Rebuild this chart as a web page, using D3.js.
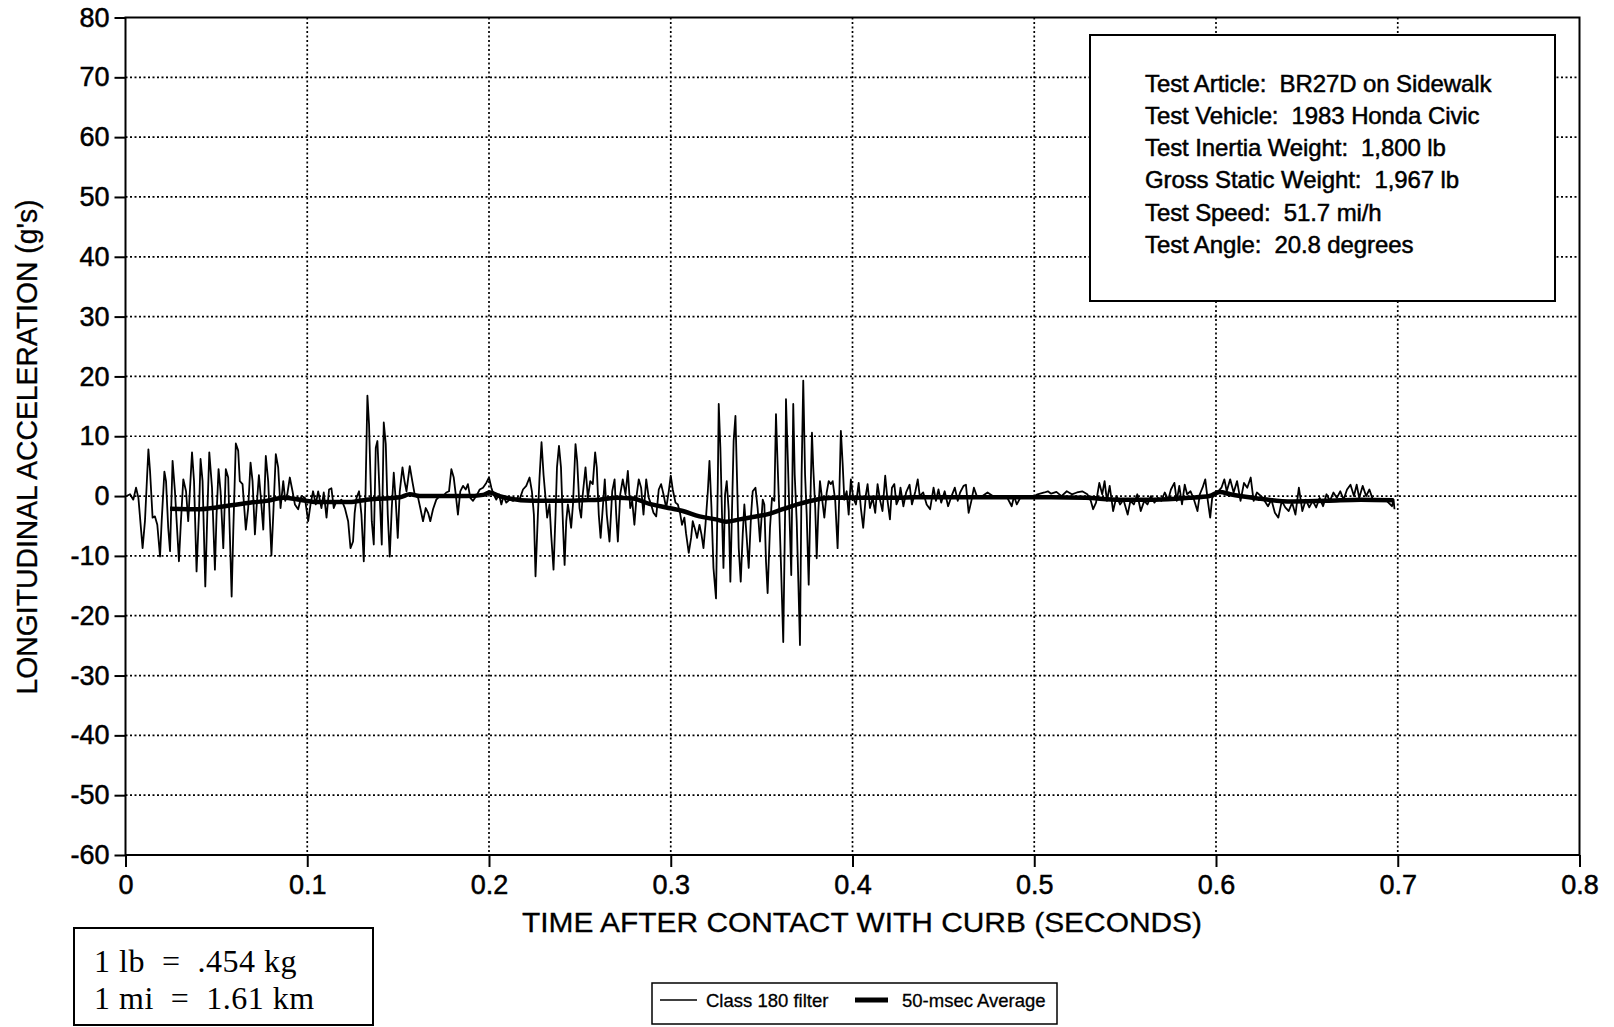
<!DOCTYPE html>
<html>
<head>
<meta charset="utf-8">
<script src="https://cdn.jsdelivr.net/npm/d3@7"></script>
<style>
    body { margin: 0; background: #fff; }
    svg { display: block; }
    .tick text { font-family: "Liberation Sans", Arial, sans-serif; }
</style>
</head>
<body>
<svg id="chart" width="1614" height="1027"></svg>
<script>
// ------------------------------------------------------------------
// Data - time in msec, acceleration in g's
// ------------------------------------------------------------------
var xTicks = [0, 0.1, 0.2, 0.3, 0.4, 0.5, 0.6, 0.7, 0.8];
var yTicks = [-60, -50, -40, -30, -20, -10, 0, 10, 20, 30, 40, 50, 60, 70, 80];

var infoLines = [
    "Test Article:  BR27D on Sidewalk",
    "Test Vehicle:  1983 Honda Civic",
    "Test Inertia Weight:  1,800 lb",
    "Gross Static Weight:  1,967 lb",
    "Test Speed:  51.7 mi/h",
    "Test Angle:  20.8 degrees"
];
var unitLines = ["1 lb  =  .454 kg", "1 mi  =  1.61 km"];
var legendNames = ["Class 180 filter", "50-msec Average"];

// Class 180 filtered trace [msec, g]
var class180 = [
    [0.6,0],[2.5,0.3],[4.3,-0.6],[5.8,1.4],[7.1,-0.3],[9.4,-8.7],[10.7,-4.2],[12.6,7.8],[13.5,4.2],[14.9,-3.6],
    [16.2,-3.4],[17.5,-4.8],[19.0,-10.1],[19.9,-4.2],[21.4,4.1],[22.3,2.5],[23.5,-5.3],[24.5,-9.2],[25.9,5.9],[27.2,0.8],
    [29.4,-10.9],[30.5,-4.2],[31.8,2.8],[33.3,0.8],[34.5,-4.2],[36.6,7.3],[37.7,2.5],[39.1,-12.6],[40.4,-3.1],[41.3,6.2],
    [42.4,2.5],[43.9,-15.1],[45.0,-3.1],[46.1,7.3],[47.6,1.4],[49.2,-12.3],[50.1,-3.1],[51.2,4.5],[52.3,0.8],[53.8,-8.7],
    [55.2,4.5],[56.5,3.1],[58.4,-16.8],[59.3,-5.9],[60.7,8.8],[62.0,7.6],[62.9,2.5],[64.4,2.0],[66.2,-5.6],[67.5,-2.0],
    [68.8,5.6],[69.9,2.5],[71.2,-6.4],[72.1,-2.0],[73.4,3.5],[74.3,0.3],[75.8,-5.6],[77.2,6.7],[78.5,2.5],[80.3,-9.9],
    [81.3,-3.1],[82.7,7.0],[84.0,4.8],[85.3,-2.0],[86.8,2.5],[87.9,-0.8],[89.0,0.3],[90.4,3.1],[91.9,0.8],[93.2,-1.4],
    [95.0,-2.2],[96.8,0],[98.7,-0.3],[100.5,-4.2],[101.8,-1.4],[103.2,0.8],[104.7,-1.4],[106.0,0.8],[107.8,-2.0],[109.1,0.6],
    [110.6,-3.6],[112.0,1.1],[113.3,1.3],[114.6,-2.0],[116.1,-0.8],[117.5,-1.1],[118.8,-0.6],[120.7,-2.0],[122.5,-4.2],[123.8,-8.7],
    [125.2,-7.6],[126.1,-2.8],[127.1,-0.3],[128.5,0.8],[129.8,-3.1],[131.1,-10.9],[132.0,-0.3],[133.1,16.8],[134.0,12.0],[134.8,3.1],
    [135.5,-4.2],[136.6,-8.1],[137.7,8.1],[138.6,9.2],[139.9,-0.3],[141.0,-8.1],[142.1,12.3],[143.2,8.7],[144.3,-3.1],[145.4,-10.1],
    [146.5,-2.0],[147.6,3.9],[148.7,-0.8],[149.8,-7.0],[150.9,0.8],[152.4,4.8],[153.5,2.5],[154.6,0.8],[156.4,5.0],[157.8,2.5],
    [159.1,0.3],[161.0,-0.3],[162.2,-2.0],[163.7,-4.2],[165.2,-2.0],[166.5,-2.8],[167.7,-4.2],[169.2,-2.2],[171.0,-0.6],[172.9,0],
    [174.7,0],[176.5,0.6],[178.0,0.8],[179.3,4.5],[180.6,3.1],[181.7,0.3],[182.9,-3.1],[184.2,0.8],[185.7,1.7],[187.2,1.1],
    [188.4,2.0],[189.7,-0.3],[191.2,-0.8],[193.0,0],[194.9,1.1],[196.7,1.4],[198.5,2.2],[200.0,3.1],[201.3,1.4],[202.5,0.3],
    [204.0,-0.6],[205.5,0.3],[206.8,-1.4],[208.0,0],[209.5,-1.1],[211.3,-0.6],[213.2,-0.8],[215.9,-0.3],
    [216.8,-0.6],[218.7,1.1],[220.5,1.7],[222.3,3.1],[223.6,0.8],[224.7,-3.1],[225.6,-13.4],[226.9,-3.1],[227.8,3.1],[228.9,9.0],
    [230.0,3.6],[231.1,-0.3],[232.0,-3.6],[233.3,-1.4],[234.2,-6.4],[235.5,-12.3],[236.6,-3.1],[237.4,4.8],[238.5,8.4],[239.6,4.8],
    [240.7,-4.8],[241.6,-11.5],[242.5,-4.2],[243.4,-1.4],[244.3,-3.1],[245.2,-5.3],[246.2,-1.4],[247.6,8.7],[248.5,5.9],[249.8,-2.0],
    [250.7,-3.6],[251.6,0.3],[253.1,4.8],[254.4,-0.3],[255.7,2.5],[257.1,2.0],[258.4,7.3],[259.3,4.8],[260.4,-3.1],[261.4,-7.0],
    [262.6,-2.0],[263.7,2.8],[264.8,-3.1],[266.3,-7.6],[267.8,0.8],[269.1,2.8],[270.0,-3.1],[270.9,-7.6],[272.2,0.3],[273.6,2.8],
    [275.1,0.3],[276.4,4.2],[277.7,-2.0],[278.8,-0.8],[280.0,-4.8],[281.3,0.3],[282.4,2.8],[283.7,1.4],[285.0,-3.1],[286.5,2.8],
    [287.9,-0.3],[289.2,-1.4],[290.5,-2.8],[292.0,-3.4],[293.4,1.1],[294.7,2.0],[296.0,0.3],[297.5,-2.0],[298.9,0.8],[300.0,3.4],
    [301.1,1.1],[302.6,-1.1],[303.9,-1.4],[305.1,-2.8],[306.2,-4.8],[307.5,-3.6],[308.4,-6.2],[309.9,-9.5],[311.2,-7.0],[312.1,-4.2],
    [313.4,-5.6],[314.5,-7.0],[315.8,-4.8],[316.9,-6.4],[318.0,-8.7],[319.1,-4.8],[320.4,0.8],[321.3,5.9],[322.4,-2.0],[323.5,-12.0],
    [324.9,-17.1],[325.9,2.5],[326.4,15.4],[327.3,8.1],[328.2,-3.1],[329.0,-12.0],[329.9,0.3],[330.8,2.5],[331.9,-2.5],[332.8,-14.3],
    [333.7,-2.5],[334.6,9.2],[335.6,13.4],[336.5,2.5],[337.4,-8.7],[338.5,-14.3],[339.6,-6.4],[340.5,-1.4],[341.8,-7.0],[342.9,-12.0],
    [344.2,-3.1],[345.1,0.8],[346.6,1.4],[347.8,-2.0],[349.1,-7.6],[350.6,-0.6],[351.5,-1.4],[352.4,-10.9],[353.3,-16.2],[354.6,-5.3],
    [355.7,-0.3],[357.0,-0.8],[357.9,13.7],[358.8,5.3],[359.7,-2.5],[360.7,-12.0],[361.9,-24.4],[362.9,-3.1],[363.4,16.2],[364.5,5.3],
    [365.2,-2.0],[366.3,-13.2],[367.4,15.4],[368.2,3.6],[369.3,-4.2],[370.2,-14.3],[371.1,-24.9],[372.0,3.6],[372.9,19.3],[373.9,3.6],
    [374.8,-3.1],[375.9,-14.8],[377.0,1.4],[377.7,10.6],[378.4,4.8],[379.5,-2.0],[380.3,-10.4],[381.2,-2.5],[382.1,2.5],[383.2,-0.3],
    [384.5,-3.6],[385.8,0.6],[386.9,2.5],[388.1,2.0],[389.1,2.5],[390.5,-0.8],[391.8,-8.7],[392.7,-0.3],[393.6,10.9],[394.6,5.3],
    [395.5,-0.6],[396.8,0.8],[397.9,-3.1],[399.1,2.8],[400.4,-0.3],[401.9,-1.4],[403.4,2.2],[404.6,-2.0],[405.9,-5.3],[407.4,0.3],
    [408.3,2.0],[409.6,-2.0],[411.1,-0.3],[412.5,-2.8],[413.8,2.0],[415.1,-0.6],[416.5,-2.5],[418.0,3.4],[419.3,-0.8],[420.6,-3.9],
    [421.7,1.4],[423.0,2.0],[424.2,-1.4],[425.7,-0.3],
    [426.4,1.4],[428.0,-1.7],[429.5,0.6],[431.4,1.9],[432.7,-1.4],[434.6,0.8],[435.9,2.8],[437.0,0],[438.9,0.6],[440.8,-1.4],
    [442.7,-2.2],[444.6,1.4],[445.9,-0.8],[447.3,1.1],[448.8,-1.1],[450.7,0.8],[452.6,-1.7],[454.5,0],[456.3,1.4],[457.9,-0.8],
    [459.2,0.6],[461.1,1.7],[462.4,1.9],[463.9,-2.8],[465.4,-0.8],[466.8,1.4],[468.7,-0.3],[471.5,0],[474.3,0.6],[477.2,0],
    [481.0,-0.3],[484.7,0],[487.6,-1.7],[488.9,0],[490.4,-1.4],[492.3,-0.3],[495.2,0],[498.4,-0.3],[501.8,0.3],[505.6,0.6],
    [507.5,0.8],[509.3,0.4],[512.2,0.7],[515.0,0],[517.9,0.8],[520.7,0.3],[523.5,0.6],[526.4,0.8],[529.2,0.3],[531.1,-0.8],
    [532.4,-2.2],[534.0,-1.1],[535.8,2.2],[537.4,0.3],[538.7,2.5],[540.0,-0.8],[541.5,1.7],[543.4,-2.5],[545.3,0],[547.2,-1.4],
    [549.1,-0.6],[551.4,-3.1],[552.9,-0.8],[554.8,-1.4],[556.7,0.3],[558.6,-2.5],[560.5,-0.8],[562.3,-1.4],[564.2,0],[566.1,-1.1],
    [568.0,-0.3],[569.9,-0.8],[571.8,0.6],[573.7,-0.6],[575.2,1.1],[577.1,2.2],[578.4,-0.8],[579.8,1.7],[581.3,-1.4],[582.8,1.9],
    [584.1,0.3],[586.0,0.8],[587.9,-0.6],[589.8,-2.5],[591.1,0.3],[592.6,1.4],[594.1,2.8],[595.5,-0.8],[596.8,-3.6],[597.9,-0.3],
    [599.3,0.3],[601.2,0.8],[603.0,1.4],[604.6,2.8],[605.9,0.8],[607.8,2.8],[609.7,0.6],[611.6,2.5],[613.5,-0.8],[615.4,2.2],
    [617.2,1.4],[619.1,3.1],[620.7,-0.8],[622.5,0.6],[624.8,0],[626.7,-0.8],[628.6,-1.7],[630.5,-0.6],[632.4,-2.8],[634.3,-3.6],
    [636.2,-0.8],[638.1,-1.9],[640.0,-2.5],[641.9,-1.1],[643.7,-3.1],[645.6,1.4],[647.5,-2.5],[649.4,-0.6],[651.3,-1.9],[653.2,-0.8],
    [655.1,-1.9],[657.0,-0.3],[658.9,-1.7],[660.8,0.3],[662.7,-0.8],[664.6,0.6],[666.5,-0.3],[668.4,0.8],[670.2,-0.6],[672.1,1.1],
    [674.0,1.9],[675.9,0],[677.4,1.9],[678.8,-0.3],[680.7,1.7],[682.6,0],[684.4,1.1],[686.3,-0.6],[688.2,-0.8],[691.1,-0.6],
    [693.9,-0.8],[696.8,-1.7],[697.7,-0.6],[698.2,-2.2]
];

// 50-msec average [msec, g]
var avg50 = [
    [24.5,-2.1],[41.0,-2.2],[50.1,-1.9],[59.3,-1.5],[68.4,-1.1],[77.6,-0.8],[86.8,-0.3],[95.9,-0.6],[105.1,-1.0],[114.2,-1.0],
    [123.4,-1.0],[132.6,-0.6],[141.7,-0.4],[150.9,-0.2],[156.4,0.3],[161.9,0],[169.2,0],[178.4,0],[187.5,0],[196.7,0.2],
    [200.4,0.6],[205.8,0],[224.2,-0.8],[242.5,-0.8],[251.6,-0.7],[260.8,-0.6],[270.0,-0.3],[279.1,-0.4],[288.3,-1.3],[297.5,-1.9],
    [306.6,-2.5],[315.8,-3.4],[324.9,-3.9],[330.4,-4.3],[337.8,-3.9],[345.1,-3.5],[352.4,-3.1],[361.6,-2.2],[370.7,-1.3],[379.9,-0.6],
    [389.1,-0.3],[407.4,-0.3],[425.7,-0.3],[433.6,-0.2],[452.6,-0.2],[471.5,-0.2],[490.4,-0.2],[509.3,-0.2],[528.3,-0.3],[547.2,-0.6],
    [566.1,-0.6],[585.1,-0.3],[596.4,0],[602.1,0.7],[607.8,0.3],[622.9,-0.4],[641.9,-0.9],[660.8,-0.8],[679.7,-0.6],[697.7,-0.7]
];

// ------------------------------------------------------------------
// Layout
// ------------------------------------------------------------------
var svg = d3.select("#chart");
var sans = "'Liberation Sans', Arial, Helvetica, sans-serif";
var serif = "'Liberation Serif', 'Times New Roman', serif";

var plot = { left: 125.5, right: 1579.5, top: 17.5, bottom: 855 };

var x = d3.scaleLinear().domain([0, 0.8]).range([plot.left, plot.right]);
var y = d3.scaleLinear().domain([-60, 80]).range([plot.bottom, plot.top]);

svg.append("rect").attr("width", 1614).attr("height", 1027).attr("fill", "#fff");

// dotted grid
var grid = svg.append("g").attr("stroke", "#000").attr("stroke-width", 1.7)
    .attr("stroke-dasharray", "2,2.5");

grid.selectAll(".gx")
    .data(xTicks.slice(1, -1))
    .enter().append("line")
    .attr("x1", function(d) { return x(d); })
    .attr("x2", function(d) { return x(d); })
    .attr("y1", plot.top).attr("y2", plot.bottom);

grid.selectAll(".gy")
    .data(yTicks.slice(1, -1))
    .enter().append("line")
    .attr("y1", function(d) { return y(d); })
    .attr("y2", function(d) { return y(d); })
    .attr("x1", plot.left).attr("x2", plot.right);

// axes (plain hyphen for negatives, like the original)
var yAxis = d3.axisLeft(y).tickValues(yTicks).tickSize(11).tickPadding(5)
    .tickFormat(function(d) { return String(d); });
var xAxis = d3.axisBottom(x).tickValues(xTicks).tickSize(12).tickPadding(8)
    .tickFormat(function(d) { return d === 0 ? "0" : d3.format(".1f")(d); });

var gy = svg.append("g").attr("transform", "translate(" + plot.left + ",0)").call(yAxis);
var gx = svg.append("g").attr("transform", "translate(0," + plot.bottom + ")").call(xAxis);

[gx, gy].forEach(function(g) {
    g.select(".domain").remove();
    g.selectAll(".tick line").attr("stroke", "#000").attr("stroke-width", 2);
    g.selectAll(".tick text").attr("fill", "#000").style("font-size", "27px")
        .attr("stroke", "#000").attr("stroke-width", 0.5);
});

// frame
svg.append("rect")
    .attr("x", plot.left).attr("y", plot.top)
    .attr("width", plot.right - plot.left).attr("height", plot.bottom - plot.top)
    .attr("fill", "none").attr("stroke", "#000").attr("stroke-width", 2);

// axis titles
svg.append("text")
    .attr("x", 862).attr("y", 932)
    .attr("text-anchor", "middle")
    .attr("textLength", 680).attr("lengthAdjust", "spacingAndGlyphs")
    .attr("stroke", "#000").attr("stroke-width", 0.3)
    .style("font-family", sans).style("font-size", "28px")
    .text("TIME AFTER CONTACT WITH CURB (SECONDS)");

svg.append("text")
    .attr("transform", "translate(37,447) rotate(-90)")
    .attr("text-anchor", "middle")
    .attr("textLength", 495).attr("lengthAdjust", "spacingAndGlyphs")
    .attr("stroke", "#000").attr("stroke-width", 0.3)
    .style("font-family", sans).style("font-size", "29px")
    .text("LONGITUDINAL ACCELERATION (g's)");

// ------------------------------------------------------------------
// Traces
// ------------------------------------------------------------------
var line = d3.line()
    .x(function(d) { return x(d[0] / 1000); })
    .y(function(d) { return y(d[1]); });

svg.append("path")
    .datum(class180)
    .attr("d", line)
    .attr("fill", "none").attr("stroke", "#000").attr("stroke-width", 1.8)
    .attr("stroke-linejoin", "round");

svg.append("path")
    .datum(avg50)
    .attr("d", line.curve(d3.curveMonotoneX))
    .attr("fill", "none").attr("stroke", "#000").attr("stroke-width", 4.5)
    .attr("stroke-linejoin", "round");

// ------------------------------------------------------------------
// Test info box
// ------------------------------------------------------------------
svg.append("rect")
    .attr("x", 1090).attr("y", 35).attr("width", 465).attr("height", 266)
    .attr("fill", "#fff").attr("stroke", "#000").attr("stroke-width", 2);

svg.append("g").selectAll("text")
    .data(infoLines)
    .enter().append("text")
    .attr("x", 1145)
    .attr("y", function(d, i) { return 91.5 + i * 32.3; })
    .style("white-space", "pre")
    .attr("stroke", "#000").attr("stroke-width", 0.5)
    .style("font-family", sans).style("font-size", "24px")
    .style("letter-spacing", "-0.1px")
    .text(function(d) { return d; });

// ------------------------------------------------------------------
// Units box
// ------------------------------------------------------------------
svg.append("rect")
    .attr("x", 74).attr("y", 928).attr("width", 299).attr("height", 97)
    .attr("fill", "#fff").attr("stroke", "#000").attr("stroke-width", 2);

svg.append("g").selectAll("text")
    .data(unitLines)
    .enter().append("text")
    .attr("x", 94)
    .attr("y", function(d, i) { return 972 + i * 37; })
    .style("white-space", "pre")
    .style("font-family", serif).style("font-size", "32px")
    .style("letter-spacing", "0.5px")
    .text(function(d) { return d; });

// ------------------------------------------------------------------
// Legend
// ------------------------------------------------------------------
var legend = svg.append("g");
legend.append("rect")
    .attr("x", 652).attr("y", 983).attr("width", 405).attr("height", 41)
    .attr("fill", "#fff").attr("stroke", "#000").attr("stroke-width", 1.5);

var legendItems = [
    { x1: 660, x2: 697, tx: 706, width: 1.3 },
    { x1: 855, x2: 888, tx: 902, width: 5 }
];

legendItems.forEach(function(item, i) {
    legend.append("line")
        .attr("x1", item.x1).attr("x2", item.x2)
        .attr("y1", 1000).attr("y2", 1000)
        .attr("stroke", "#000").attr("stroke-width", item.width);
    legend.append("text")
        .attr("x", item.tx).attr("y", 1006.5)
        .attr("stroke", "#000").attr("stroke-width", 0.3)
        .style("font-family", sans).style("font-size", "18.5px")
        .text(legendNames[i]);
});
</script>
</body>
</html>
